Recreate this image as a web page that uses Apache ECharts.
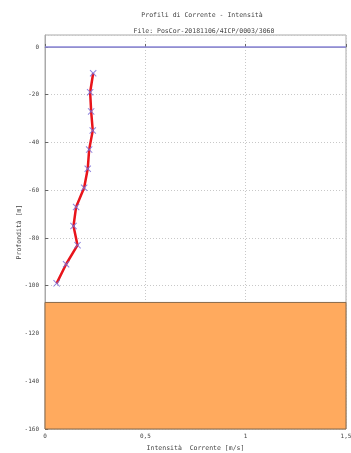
<!DOCTYPE html>
<html>
<head>
<meta charset="utf-8">
<script src="https://cdn.jsdelivr.net/npm/echarts@6/dist/echarts.min.js"></script>
<style>
  html, body { margin: 0; padding: 0; background: #fff; }
  #chart { width: 351px; height: 453px; }
</style>
</head>
<body>
<div id="chart"></div>
<script>
// Current profile: intensity (m/s) at each measured depth (m)
const depths = [-11, -19, -27, -35, -43, -51, -59, -67, -75, -83, -91, -99];
const speeds = [0.24, 0.225, 0.23, 0.238, 0.22, 0.213, 0.195, 0.155, 0.142, 0.162, 0.105, 0.058];
// Seabed band (m)
const seabedTop = -107;
const seabedBottom = -160;
// Axis ranges and ticks
const xTicks = [0, 0.5, 1, 1.5];
const yMin = -160, yMax = 5, yStep = 20;
const surfaceLevel = 0;

const titleText = 'Profili di Corrente - Intensità';
const subText = 'File: PosCor-20181106/4ICP/0003/3060';

const points = depths.map((d, i) => [speeds[i], d]);
const font = 'DejaVu Sans Mono';
const textColor = '#444';

const chart = echarts.init(document.getElementById('chart'));
chart.setOption({
  animation: false,
  backgroundColor: '#fff',
  title: [
    { text: titleText, left: 197, top: 7, textAlign: 'center',
      textStyle: { fontFamily: font, fontSize: 6.5, fontWeight: 'normal', color: textColor } },
    { text: subText, left: 199, top: 23, textAlign: 'center',
      textStyle: { fontFamily: font, fontSize: 6.5, fontWeight: 'normal', color: textColor } }
  ],
  grid: { left: 45, right: 5, top: 35, bottom: 24, show: true, borderColor: '#aaa', borderWidth: 1,
    containLabel: false, outerBoundsMode: 'none' },
  xAxis: {
    type: 'value', min: xTicks[0], max: xTicks[xTicks.length - 1], interval: 0.5,
    name: 'Intensità  Corrente [m/s]', nameLocation: 'middle', nameGap: 16,
    nameMoveOverlap: false,
    nameTextStyle: { fontFamily: font, fontSize: 6.5, color: textColor },
    axisLine: { lineStyle: { color: '#aaa' } },
    axisTick: { inside: true, length: 3, lineStyle: { color: '#666' } },
    axisLabel: { fontFamily: font, fontSize: 6, color: textColor, margin: 4,
      formatter: v => String(v).replace('.', ',') },
    splitLine: { show: true, lineStyle: { color: '#c8c8c8', type: [1, 2], width: 1 } }
  },
  yAxis: {
    type: 'value', min: yMin, max: yMax, interval: yStep,
    name: 'Profondità [m]', nameLocation: 'middle', nameGap: 22, nameRotate: 90,
    nameMoveOverlap: false,
    nameTextStyle: { fontFamily: font, fontSize: 6.5, color: textColor },
    axisLine: { lineStyle: { color: '#aaa' } },
    axisTick: { inside: true, length: 3, lineStyle: { color: '#666' } },
    axisLabel: { fontFamily: font, fontSize: 6, color: textColor, margin: 6, showMaxLabel: false },
    splitLine: { show: true, lineStyle: { color: '#c8c8c8', type: [1, 2], width: 1 } }
  },
  series: [
    {
      type: 'line',
      data: [],
      silent: true,
      markArea: {
        silent: true,
        itemStyle: { color: '#FFAA5E', borderColor: '#8a6a4a', borderWidth: 1 },
        data: [[{ yAxis: seabedTop, xAxis: xTicks[0] }, { yAxis: seabedBottom, xAxis: xTicks[xTicks.length - 1] }]]
      },
      markLine: {
        silent: true,
        symbol: ['none', 'none'],
        label: { show: false },
        lineStyle: { color: '#8a86d8', width: 1.5, type: 'solid' },
        data: [{ yAxis: surfaceLevel }]
      }
    },
    {
      type: 'line',
      data: points,
      showSymbol: false,
      lineStyle: { color: '#e8141b', width: 2.5 },
      z: 3
    },
    {
      type: 'scatter',
      data: points,
      symbol: 'path://M0,1L1,0L5,4L9,0L10,1L6,5L10,9L9,10L5,6L1,10L0,9L4,5Z',
      symbolSize: 7,
      itemStyle: { color: '#7a6fd8', opacity: 0.85 },
      z: 4
    }
  ]
});
</script>
</body>
</html>
